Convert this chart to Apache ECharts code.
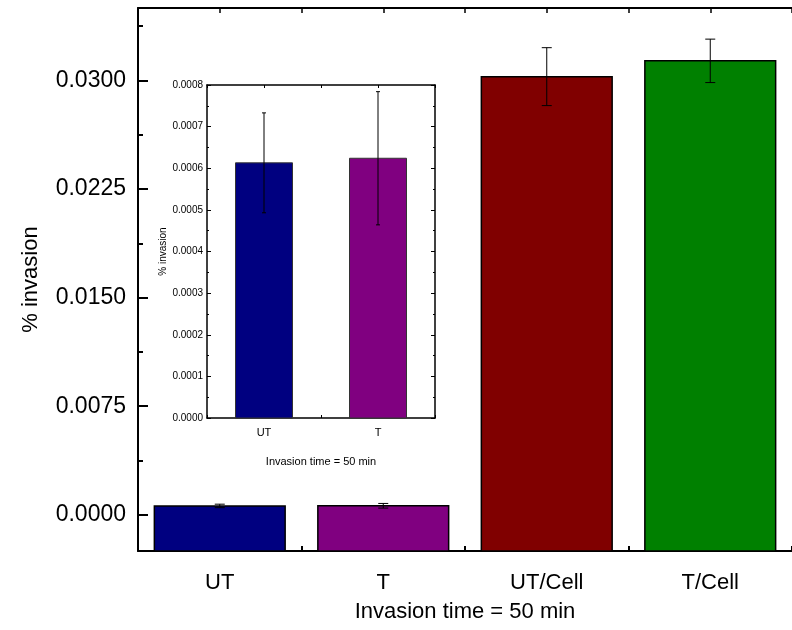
<!DOCTYPE html>
<html>
<head>
<meta charset="utf-8">
<script src="https://cdn.jsdelivr.net/npm/echarts@6/dist/echarts.min.js"></script>
<style>html,body{margin:0;padding:0;background:#fff}#c{width:792px;height:630px}</style>
</head>
<body>
<div id="c"></div>
<script>
// Main chart data
const categories = ['UT', 'T', 'UT/Cell', 'T/Cell'];
const values = [0.000613, 0.000624, 0.03026, 0.03135];
const errors = [0.00012, 0.00016, 0.0020, 0.0015];
const barColors = ['#000080', '#800080', '#800000', '#008000'];
const yTicks = [0, 0.0075, 0.015, 0.0225, 0.03];
const yMinorTicks = [0.00375, 0.01125, 0.01875, 0.02625, 0.03375];
const yMin = -0.0025, yMax = 0.035;

// Inset data
const insetCategories = ['UT', 'T'];
const insetValues = [0.000613, 0.000624];
const insetErrors = [0.00012, 0.00016];
const insetColors = ['#000080', '#800080'];

const chart = echarts.init(document.getElementById('c'), null, {renderer: 'canvas'});
const axisLine = {show: true, onZero: false, lineStyle: {color: '#000', width: 2}};
const mainFont = 'Liberation Sans, Arial, sans-serif';
const narrowFont = 'Liberation Sans Narrow, Liberation Sans, Arial, sans-serif';

function errRender(capW) {
  return function (params, api) {
    const x = api.value(0), y = api.value(1), e = api.value(2);
    const top = api.coord([x, y + e]);
    const bot = api.coord([x, y - e]);
    const st = {stroke: '#000', lineWidth: 1};
    return {type: 'group', children: [
      {type: 'line', shape: {x1: top[0], y1: top[1], x2: bot[0], y2: bot[1]}, style: st},
      {type: 'line', shape: {x1: top[0] - capW, y1: top[1], x2: top[0] + capW, y2: top[1]}, style: st},
      {type: 'line', shape: {x1: bot[0] - capW, y1: bot[1], x2: bot[0] + capW, y2: bot[1]}, style: st}
    ]};
  };
}

function barRender(base, frac, colors, stroke, lw) {
  return function (params, api) {
    const x = api.value(0), y = api.value(1);
    const p1 = api.coord([x, y]);
    const p0 = api.coord([x, base]);
    const w = api.size([1, 0])[0] * frac;
    return {type: 'rect', shape: {x: p1[0] - w / 2, y: p1[1], width: w, height: p0[1] - p1[1]},
            style: {fill: colors[params.dataIndex], stroke: stroke, lineWidth: lw}};
  };
}

const option = {
  animation: false,
  backgroundColor: '#fff',
  grid: [
    {left: 138, top: 8, right: -9, bottom: 79},
    {left: 207, top: 85, width: 228, height: 333}
  ],
  xAxis: [
    {gridIndex: 0, type: 'category', data: categories, position: 'bottom',
     axisLine: axisLine, axisTick: {show: true, inside: true, alignWithLabel: true, length: 10, lineStyle: {color: '#000', width: 2}},
     axisLabel: {color: '#000', fontSize: 22, fontFamily: mainFont, margin: 21},
     name: 'Invasion time = 50 min', nameLocation: 'middle', nameGap: 50,
     nameTextStyle: {color: '#000', fontSize: 22, fontFamily: mainFont}},
    {gridIndex: 0, type: 'category', data: categories, position: 'bottom',
     axisLine: {show: false, onZero: false}, axisTick: {show: true, inside: true, length: 5, lineStyle: {color: '#000', width: 2}},
     axisLabel: {show: false}},
    {gridIndex: 0, type: 'category', data: categories, position: 'top',
     axisLine: axisLine, axisTick: {show: true, inside: true, length: 5, lineStyle: {color: '#000', width: 1.5}},
     axisLabel: {show: false}},
    {gridIndex: 0, type: 'category', data: categories, position: 'top',
     axisLine: {show: false, onZero: false}, axisTick: {show: true, inside: true, alignWithLabel: true, length: 5, lineStyle: {color: '#000', width: 1.5}},
     axisLabel: {show: false}},
    {gridIndex: 1, type: 'category', data: insetCategories, position: 'bottom',
     axisLine: {show: true, onZero: false, lineStyle: {color: '#000', width: 1.5}},
     axisTick: {show: true, inside: true, alignWithLabel: true, length: 5, lineStyle: {color: '#000', width: 1}},
     axisLabel: {color: '#000', fontSize: 11, fontFamily: narrowFont, margin: 9},
     name: 'Invasion time = 50 min', nameLocation: 'middle', nameGap: 38,
     nameTextStyle: {color: '#000', fontSize: 11, fontFamily: narrowFont}},
    {gridIndex: 1, type: 'category', data: insetCategories, position: 'bottom',
     axisLine: {show: false, onZero: false}, axisTick: {show: true, inside: true, length: 3, lineStyle: {color: '#000', width: 1}},
     axisLabel: {show: false}},
    {gridIndex: 1, type: 'category', data: insetCategories, position: 'top',
     axisLine: {show: true, onZero: false, lineStyle: {color: '#000', width: 1.5}},
     axisTick: {show: true, inside: true, length: 3, lineStyle: {color: '#000', width: 1}},
     axisLabel: {show: false}},
    {gridIndex: 1, type: 'category', data: insetCategories, position: 'top',
     axisLine: {show: false, onZero: false},
     axisTick: {show: true, inside: true, alignWithLabel: true, length: 3, lineStyle: {color: '#000', width: 1}},
     axisLabel: {show: false}}
  ],
  yAxis: [
    {gridIndex: 0, type: 'value', min: yMin, max: yMax, position: 'left',
     splitLine: {show: false}, axisLine: axisLine,
     axisTick: {show: true, inside: true, length: 10, customValues: yTicks, lineStyle: {color: '#000', width: 2}},
     axisLabel: {color: '#000', fontSize: 23, fontFamily: mainFont, margin: 12, customValues: yTicks,
                 formatter: v => v.toFixed(4)},
     name: '% invasion', nameLocation: 'middle', nameGap: 96, nameRotate: 90,
     nameTextStyle: {color: '#000', fontSize: 22, fontFamily: mainFont}},
    {gridIndex: 0, type: 'value', min: yMin, max: yMax, position: 'left',
     splitLine: {show: false}, axisLine: {show: false, onZero: false},
     axisTick: {show: true, inside: true, length: 5, customValues: yMinorTicks, lineStyle: {color: '#000', width: 2}},
     axisLabel: {show: false, customValues: yMinorTicks}},
    {gridIndex: 1, type: 'value', min: 0, max: 0.0008, interval: 0.0001, position: 'left',
     splitLine: {show: false}, axisLine: {show: true, onZero: false, lineStyle: {color: '#000', width: 1.5}},
     axisTick: {show: true, inside: true, length: 4, lineStyle: {color: '#000', width: 1}},
     minorTick: {show: true, splitNumber: 2, length: 2, lineStyle: {color: '#000', width: 1}},
     axisLabel: {color: '#000', fontSize: 10, fontFamily: narrowFont, margin: 4, formatter: v => v.toFixed(4)},
     name: '% invasion', nameLocation: 'middle', nameGap: 36, nameRotate: 90,
     nameTextStyle: {color: '#000', fontSize: 10, fontFamily: narrowFont}},
    {gridIndex: 1, type: 'value', min: 0, max: 0.0008, interval: 0.0001, position: 'right',
     splitLine: {show: false}, axisLine: {show: true, onZero: false, lineStyle: {color: '#000', width: 1.5}},
     axisTick: {show: true, inside: true, length: 4, lineStyle: {color: '#000', width: 1}},
     minorTick: {show: true, splitNumber: 2, length: 2, lineStyle: {color: '#000', width: 1}},
     axisLabel: {show: false}}
  ],
  series: [
    {type: 'custom', xAxisIndex: 0, yAxisIndex: 0, renderItem: barRender(yMin, 0.8, barColors, '#000', 1.5),
     data: values.map((v, i) => [i, v]), z: 2},
    {type: 'custom', xAxisIndex: 0, yAxisIndex: 0, renderItem: errRender(5),
     data: values.map((v, i) => [i, v, errors[i]]), z: 3},
    {type: 'custom', xAxisIndex: 4, yAxisIndex: 2, renderItem: barRender(0, 0.5, insetColors, '#333', 1),
     data: insetValues.map((v, i) => [i, v]), z: 2},
    {type: 'custom', xAxisIndex: 4, yAxisIndex: 2, renderItem: errRender(2),
     data: insetValues.map((v, i) => [i, v, insetErrors[i]]), z: 3}
  ]
};
chart.setOption(option);
</script>
</body>
</html>
